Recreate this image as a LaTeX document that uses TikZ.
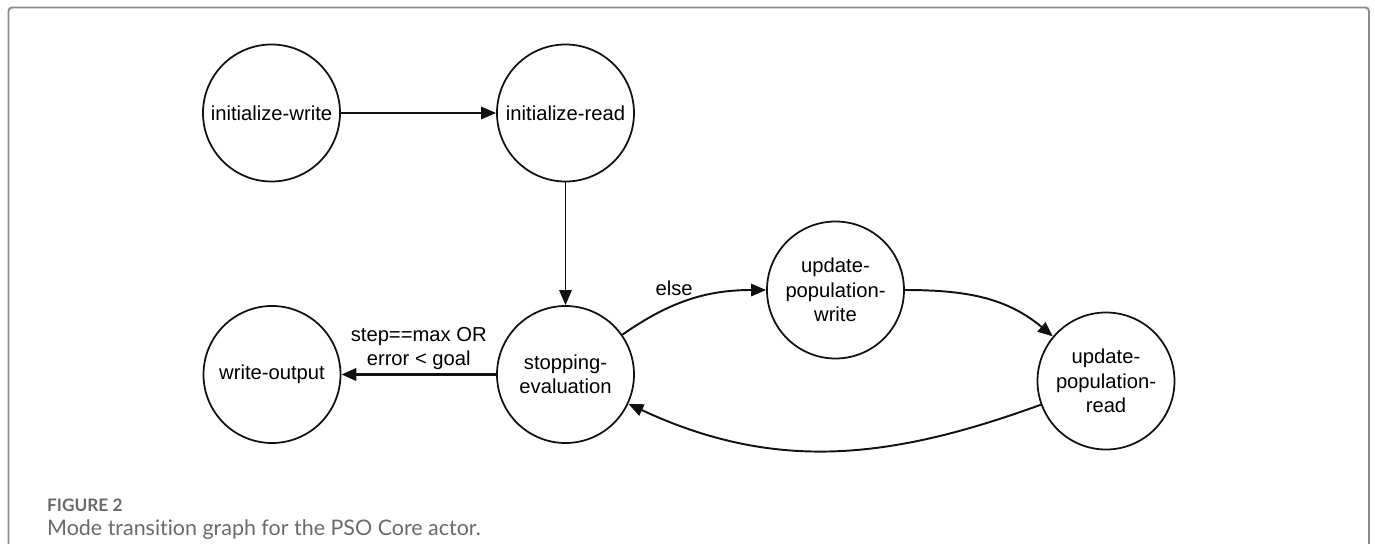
\documentclass[tikz,border=0pt]{standalone}
\usepackage{fontspec}
\setmainfont{Liberation Sans}
\newfontfamily\capfont[Ligatures=NoCommon]{Lato}
\usetikzlibrary{arrows.meta}
\definecolor{modeDraw}{HTML}{111111}
\definecolor{frameDraw}{HTML}{8C8C8C}
\definecolor{capText}{HTML}{6A6A6A}

\begin{document}
\begin{tikzpicture}[
  font=\fontsize{11.5pt}{13.8pt}\selectfont,
  mode/.style={circle, draw=modeDraw, line width=1pt, align=center,
               inner sep=0pt, minimum size=2.74cm},
  arr/.style={-{Triangle[length=8.5pt,width=7pt]}, line width=1.1pt, draw=modeDraw},
  warr/.style={arr, line width=1.6pt},
  lbl/.style={align=center, inner sep=2pt},
]
\useasboundingbox (0,0) rectangle (27.5,-10.88);

% ---- Frame and caption ----
\draw[frameDraw, line width=1.1pt, rounded corners=2pt] (0.17,-0.15) rectangle (27.38,-11.4);
\node[anchor=base west, font=\capfont\bfseries\fontsize{9.8pt}{12pt}\selectfont, text=capText]
     (figno) at (0.82,-10.22) {FIGURE 2};
\node[anchor=base west, font=\capfont\fontsize{12.2pt}{14pt}\selectfont, text=capText]
     (figcap) at (0.82,-10.7) {Mode transition graph for the PSO Core actor.};

% ---- Modes ----
\node[mode] (iw)  at (5.43,-2.26)   {initialize-write};
\node[mode] (ir)  at (11.31,-2.26)  {initialize-read};
\node[mode] (wo)  at (5.44,-7.49)   {write-output};
\node[mode] (se)  at (11.31,-7.49)  {stopping-\\evaluation};
\node[mode] (upw) at (16.71,-5.8)   {update-\\population-\\write};
\node[mode] (upr) at (22.12,-7.62)  {update-\\population-\\read};

% ---- Initialization ----
\draw[arr] (iw) -- (ir);
\draw[arr] (ir) -- (se);

% ---- Stopping test ----
\draw[warr] (se) -- node[lbl, above] {step==max OR\\error < goal} (wo);

% ---- Update loop ----
\draw[arr] (se)  to[out=35, in=180] node[lbl, pos=0.38, above, yshift=3pt] {else} (upw);
\draw[arr] (upw) to[out=0, in=140] (upr);
\draw[arr] (upr) to[out=200, in=-25] (se);

\end{tikzpicture}
\end{document}
